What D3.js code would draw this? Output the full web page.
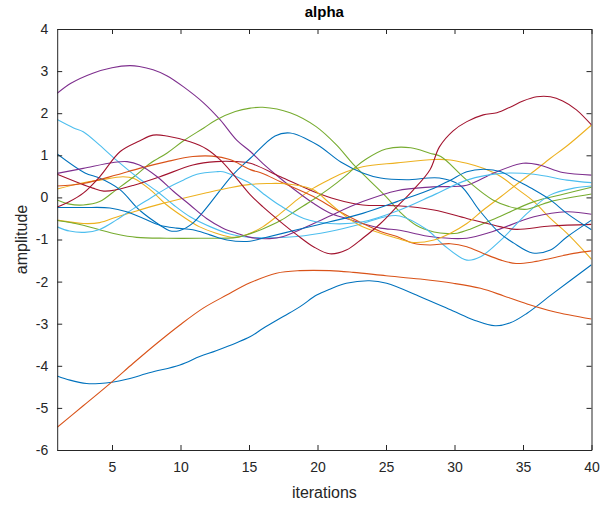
<!DOCTYPE html>
<html>
<head>
<meta charset="utf-8">
<script src="https://cdn.jsdelivr.net/npm/d3@7"></script>
<style>
  html, body { margin: 0; padding: 0; background: #fff; }
  svg { display: block; font-family: "Liberation Sans", Arial, Helvetica, sans-serif; }
</style>
</head>
<body>
<svg id="chart" width="601" height="506"></svg>
<script>
// Axis ranges and tick values
const xDomain = [1, 40];
const yDomain = [-6, 4];
const xTicks = [5, 10, 15, 20, 25, 30, 35, 40];
const yTicks = [-6, -5, -4, -3, -2, -1, 0, 1, 2, 3, 4];

// Line colours (default colour order, cycled)
const palette = ["#0072BD", "#D95319", "#EDB120", "#7E2F8E", "#77AC30", "#4DBEEE", "#A2142F"];

// Series: iteration positions and amplitudes
const b1x = [1, 1.93, 3.15, 4.1, 5, 6.07, 7.8, 9.96, 11.4, 12.6, 14.1, 15.07, 16.04, 17.5, 18.7, 19.94, 20.9, 22.1, 23.8, 25.05, 27.5, 29.9, 31.4, 32.96, 34.07, 35.3, 37.2, 40];
const b1y = [-4.24, -4.34, -4.42, -4.42, -4.39, -4.32, -4.16, -3.98, -3.78, -3.64, -3.45, -3.31, -3.11, -2.83, -2.60, -2.32, -2.18, -2.04, -1.98, -2.04, -2.36, -2.70, -2.91, -3.05, -2.98, -2.75, -2.28, -1.60];

const o2x = [1, 2.9, 5, 6.55, 8.26, 9.96, 11.66, 13.37, 15.07, 17, 18.7, 20.9, 22.6, 25, 27.5, 29.9, 31.9, 33.6, 35.3, 37.2, 40];
const o2y = [-5.46, -4.95, -4.38, -3.94, -3.47, -3.03, -2.63, -2.32, -2.03, -1.80, -1.74, -1.74, -1.78, -1.86, -1.94, -2.04, -2.16, -2.34, -2.53, -2.71, -2.89];

const y1x = [1, 2.9, 4.1, 5.8, 6.6, 7.8, 9, 10.2, 11.4, 12.6, 13.9, 14.8, 16, 17.3, 18.5, 19.7, 20.9, 22.1, 23.3, 25.8, 28.5, 29.7, 30.9, 32.1, 33.4, 34.5, 35.8, 37, 38.2, 40];
const y1y = [0.20, 0.35, 0.41, 0.49, 0.45, 0.18, -0.18, -0.46, -0.70, -0.85, -0.95, -0.89, -0.70, -0.38, -0.06, 0.22, 0.43, 0.61, 0.73, 0.82, 0.90, 0.89, 0.81, 0.69, 0.49, 0.22, -0.10, -0.50, -0.85, -1.47];

const p1x = [1, 2, 3.6, 5, 6.3, 7, 8, 9, 10.2, 11.7, 12.9, 14.1, 15.1, 16, 17.3, 18.5, 19.7, 20.9, 22.1, 23.3, 24.6, 26, 27, 28.2, 30.9, 32.8, 35.8, 38.2, 40];
const p1y = [2.47, 2.71, 2.95, 3.08, 3.13, 3.11, 3.03, 2.89, 2.63, 2.24, 1.84, 1.36, 1.09, 0.81, 0.45, 0.14, -0.14, -0.37, -0.50, -0.62, -0.73, -0.78, -0.85, -0.93, -0.97, -0.81, -0.46, -0.34, -0.40];

const g1x = [1, 1.9, 2.9, 4.1, 5.3, 6.6, 7.8, 9, 10.2, 11.7, 12.6, 14, 15.1, 16, 18, 19.9, 21.4, 22.6, 25, 26, 27.2, 28.5, 29.5, 30.2, 31.1, 33.4, 35.8, 38, 40];
const g1y = [-0.06, -0.16, -0.18, -0.10, 0.18, 0.49, 0.81, 1.05, 1.34, 1.65, 1.84, 2.04, 2.12, 2.14, 2.01, 1.68, 1.24, 0.79, 0.02, -0.34, -0.66, -0.82, -0.86, -0.85, -0.76, -0.44, -0.10, 0.08, 0.24];

const l1x = [1, 2.2, 2.9, 4.1, 5.3, 6.8, 8.3, 9.5, 10.7, 12.2, 13.6, 15.1, 16, 18.5, 20.9, 23.3, 24.8, 26, 28, 29.2, 30.9, 31.9, 33.4, 35.3, 37, 38.7, 40];
const l1y = [1.85, 1.65, 1.56, 1.24, 0.89, 0.49, 0.14, -0.18, -0.46, -0.70, -0.87, -0.95, -0.96, -0.93, -0.81, -0.62, -0.47, -0.44, -0.77, -1.13, -1.49, -1.41, -1.01, -0.38, 0.06, 0.22, 0.27];

const r1x = [1, 3.6, 4.4, 5.3, 6.6, 8.5, 10.9, 12.6, 14.1, 15.1, 17.3, 19.7, 21.4, 23.3, 25.8, 28.5, 30.9, 33.4, 34.5, 37, 40];
const r1y = [0.55, 0.22, 0.15, 0.18, 0.29, 0.49, 0.77, 0.85, 0.85, 0.81, 0.49, 0.14, -0.05, -0.18, -0.20, -0.30, -0.50, -0.70, -0.76, -0.68, -0.64];

const b2x = [1, 3.03, 4.1, 5.6, 7, 8.5, 9.2, 9.9, 10.9, 13.8, 15.1, 16.9, 18, 19.98, 21.7, 23.3, 24.6, 26.5, 28.9, 30.4, 31.8, 33.3, 34.3, 35.7, 37, 38.2, 40];
const b2y = [1.03, 0.58, 0.46, 0.18, -0.30, -0.66, -0.79, -0.79, -0.61, 0.53, 0.93, 1.46, 1.53, 1.25, 0.84, 0.58, 0.46, 0.42, 0.46, 0.29, -0.30, -0.85, -1.08, -1.32, -1.25, -0.94, -0.54];

const o1x = [1, 2.9, 5.3, 7, 9, 10.9, 12.3, 13.6, 15.1, 16, 17.3, 19.7, 21.4, 23.3, 24.6, 25.8, 27, 28.2, 29.7, 30.9, 32.1, 33.4, 34.5, 35.8, 37, 38.7, 40];
const o1y = [0.27, 0.33, 0.53, 0.69, 0.85, 0.97, 0.98, 0.90, 0.66, 0.57, 0.37, 0.02, -0.30, -0.62, -0.81, -0.93, -1.09, -1.13, -1.10, -1.17, -1.33, -1.49, -1.57, -1.53, -1.45, -1.33, -1.27];

const y2x = [1, 2.9, 4.1, 5.3, 6.6, 8.5, 10.2, 11.9, 13.6, 15.1, 16.5, 17.3, 18.5, 19.7, 20.9, 22.1, 23.3, 24.6, 25.8, 27, 28.5, 29.7, 30.9, 32.1, 33.4, 34.5, 35.8, 37, 38.2, 40];
const y2y = [-0.54, -0.62, -0.60, -0.47, -0.34, -0.16, -0.02, 0.11, 0.23, 0.31, 0.33, 0.33, 0.29, 0.18, -0.14, -0.46, -0.70, -0.85, -0.97, -1.07, -1.01, -0.85, -0.62, -0.30, 0.02, 0.30, 0.62, 0.93, 1.22, 1.72];

const p2x = [1, 2.9, 5.1, 6.1, 7, 8.3, 9.5, 10.7, 11.9, 13.1, 14.1, 15.1, 16.5, 17.5, 19.2, 20.9, 23.3, 25.8, 28.4, 30.9, 32.8, 35, 36.2, 37.9, 40];
const p2y = [0.57, 0.69, 0.83, 0.85, 0.77, 0.49, 0.14, -0.18, -0.50, -0.73, -0.85, -0.95, -0.98, -0.93, -0.70, -0.44, -0.10, 0.16, 0.25, 0.29, 0.57, 0.81, 0.77, 0.59, 0.53];

const g2x = [1, 2.9, 4.1, 5.3, 6.8, 9, 11.4, 14.1, 15.1, 16, 17.3, 18.5, 19.7, 20.9, 22, 22.7, 23.5, 25, 26.8, 28.2, 29, 30.9, 32.8, 34.5, 35.3, 37, 40];
const g2y = [-0.55, -0.66, -0.77, -0.87, -0.95, -0.97, -0.97, -0.95, -0.86, -0.75, -0.55, -0.30, -0.05, 0.22, 0.50, 0.70, 0.90, 1.15, 1.18, 1.05, 0.97, 0.41, -0.06, -0.26, -0.28, -0.10, 0.08];

const l2x = [1, 1.9, 3, 4.1, 5.3, 6.6, 7.8, 9, 10.2, 11.2, 12.6, 13.1, 14.1, 15.1, 16, 17.3, 19, 20.9, 23.3, 26, 28.5, 30.9, 33.4, 35.8, 38.2, 40];
const l2y = [-0.70, -0.80, -0.83, -0.76, -0.54, -0.26, -0.02, 0.22, 0.41, 0.55, 0.61, 0.61, 0.49, 0.33, 0.10, -0.20, -0.50, -0.62, -0.58, -0.30, 0.06, 0.41, 0.57, 0.55, 0.41, 0.35];

const r2x = [1, 1.9, 2.9, 4.1, 5.6, 7, 8, 9, 10.7, 11.9, 12.9, 13.9, 15.1, 16, 17.3, 18.5, 19.7, 20.9, 22.1, 23.3, 24.6, 25.8, 27, 28.2, 28.9, 29.9, 30.9, 32.1, 33.1, 34.1, 35, 36, 37, 37.9, 38.9, 40];
const r2y = [-0.23, -0.10, 0.10, 0.49, 1.09, 1.34, 1.48, 1.46, 1.32, 1.15, 0.89, 0.53, 0.06, -0.22, -0.58, -0.89, -1.17, -1.34, -1.25, -0.97, -0.62, -0.22, 0.18, 0.65, 1.20, 1.58, 1.80, 1.96, 2.01, 2.15, 2.29, 2.39, 2.39, 2.29, 2.08, 1.72];

const b3x = [1, 2.9, 4.85, 6.07, 7.3, 8.5, 9.7, 10.9, 12.15, 13.4, 15.07, 16, 18.5, 20.9, 23.3, 25.8, 28.5, 29.7, 30.9, 32.1, 33.4, 34.5, 35.8, 37, 38.2, 40];
const b3y = [-0.24, -0.24, -0.25, -0.34, -0.50, -0.66, -0.73, -0.77, -0.89, -1.01, -1.04, -0.97, -0.77, -0.58, -0.38, -0.10, 0.22, 0.41, 0.61, 0.67, 0.61, 0.41, 0.18, -0.06, -0.38, -0.77];

// Plot order follows the colour cycle
const seriesX = [b1x, o2x, y1x, p1x, g1x, l1x, r1x, b2x, o1x, y2x, p2x, g2x, l2x, r2x, b3x];
const seriesY = [b1y, o2y, y1y, p1y, g1y, l1y, r1y, b2y, o1y, y2y, p2y, g2y, l2y, r2y, b3y];

const svg = d3.select("#chart");
const plotLeft = 57.2, plotRight = 591.5, plotTop = 29, plotBottom = 450;
const axisColor = "#262626";

const x = d3.scaleLinear().domain(xDomain).range([plotLeft, plotRight]);
const y = d3.scaleLinear().domain(yDomain).range([plotBottom, plotTop]);

// Data lines, clipped to the plot box
svg.append("clipPath").attr("id", "plotclip")
  .append("rect").attr("x", plotLeft).attr("y", plotTop)
  .attr("width", plotRight - plotLeft).attr("height", plotBottom - plotTop);

const line = d3.line()
  .x(d => x(d[0]))
  .y(d => y(d[1]))
  .curve(d3.curveCatmullRom.alpha(0.5));

const lines = svg.append("g").attr("clip-path", "url(#plotclip)");
seriesX.forEach((xs, i) => {
  const pts = xs.map((v, j) => [v, seriesY[i][j]]);
  lines.append("path")
    .datum(pts)
    .attr("d", line)
    .attr("fill", "none")
    .attr("stroke", palette[i % palette.length])
    .attr("stroke-width", 1.1)
    .attr("stroke-linejoin", "round");
});

// Axes: ticks point inward, box drawn on all four sides
const tickLen = 5;
const fmt = d3.format("d");

const axBottom = d3.axisBottom(x).tickValues(xTicks).tickSizeInner(-tickLen).tickSizeOuter(0).tickPadding(12).tickFormat(fmt);
const axTop = d3.axisTop(x).tickValues(xTicks).tickSizeInner(-tickLen).tickSizeOuter(0).tickFormat("");
const axLeft = d3.axisLeft(y).tickValues(yTicks).tickSizeInner(-tickLen).tickSizeOuter(0).tickPadding(9).tickFormat(d => d < 0 ? "-" + Math.abs(d) : d);
const axRight = d3.axisRight(y).tickValues(yTicks).tickSizeInner(-tickLen).tickSizeOuter(0).tickFormat("");

function styleAxis(g) {
  g.select(".domain").attr("stroke", axisColor).attr("stroke-width", 1);
  g.selectAll(".tick line").attr("stroke", axisColor).attr("stroke-width", 1);
  g.selectAll(".tick text").attr("fill", axisColor).attr("font-size", 14)
    .attr("font-family", "'Liberation Sans', Arial, sans-serif");
}

svg.append("g").attr("transform", `translate(0,${plotBottom})`).call(axBottom).call(styleAxis);
svg.append("g").attr("transform", `translate(0,${plotTop})`).call(axTop).call(styleAxis);
svg.append("g").attr("transform", `translate(${plotLeft},0)`).call(axLeft).call(styleAxis);
svg.append("g").attr("transform", `translate(${plotRight},0)`).call(axRight).call(styleAxis);

// Title and axis labels
svg.append("text")
  .attr("x", (plotLeft + plotRight) / 2).attr("y", 17)
  .attr("text-anchor", "middle")
  .attr("font-size", 15).attr("font-weight", "bold")
  .attr("fill", "#000")
  .text("alpha");

svg.append("text")
  .attr("x", (plotLeft + plotRight) / 2).attr("y", 498)
  .attr("text-anchor", "middle")
  .attr("font-size", 16)
  .attr("fill", axisColor)
  .text("iterations");

svg.append("text")
  .attr("transform", `translate(27,${(plotTop + plotBottom) / 2}) rotate(-90)`)
  .attr("text-anchor", "middle")
  .attr("font-size", 16)
  .attr("fill", axisColor)
  .text("amplitude");
</script>
</body>
</html>
